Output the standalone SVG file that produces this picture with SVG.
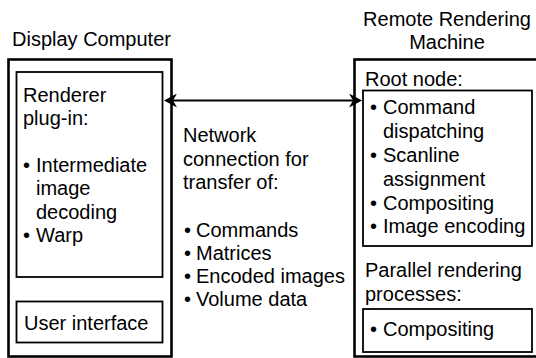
<svg xmlns="http://www.w3.org/2000/svg" width="536" height="358" viewBox="0 0 536 358">
<style>
text{font-family:"Liberation Sans",Arial,sans-serif;font-size:20px;fill:#000}
.outer{fill:none;stroke:#000;stroke-width:2.6}
.inner{fill:none;stroke:#000;stroke-width:1.8}
.conn{fill:none;stroke:#000;stroke-width:2}
.mid{text-anchor:middle}
</style>
<defs>
<marker id="ah" markerUnits="userSpaceOnUse" viewBox="0 0 13 14" refX="7" refY="7" markerWidth="13" markerHeight="14" orient="auto-start-reverse">
<path d="M0,0 L13,7 L0,14 L4,7 z" fill="#000"/>
</marker>
</defs>
<rect width="536" height="358" fill="#fff"/>

<g id="display-computer">
<text x="12" y="46">Display Computer</text>
<rect class="outer" x="8.5" y="59.5" width="163" height="297"/>
</g>

<g id="renderer-plugin">
<rect class="inner" x="16.5" y="72" width="146" height="205"/>
<text x="23" y="101.5">Renderer</text>
<text x="23" y="125">plug-in:</text>
<text x="23" y="171.5">•</text><text x="36" y="171.5">Intermediate</text>
<text x="36" y="195">image</text>
<text x="36" y="218.5">decoding</text>
<text x="23" y="242">•</text><text x="36" y="242">Warp</text>
</g>

<g id="user-interface">
<rect class="inner" x="16.5" y="301.5" width="146" height="41"/>
<text x="24" y="330">User interface</text>
</g>

<g id="network-label">
<text x="183" y="142">Network</text>
<text x="183" y="165.5">connection for</text>
<text x="183" y="189">transfer of:</text>
<text x="184" y="236.5">•</text><text x="196" y="236.5">Commands</text>
<text x="184" y="260">•</text><text x="196" y="260">Matrices</text>
<text x="184" y="283">•</text><text x="196" y="283">Encoded images</text>
<text x="184" y="306">•</text><text x="196" y="306">Volume data</text>
</g>

<g id="remote-rendering-machine">
<text class="mid" x="447" y="26">Remote Rendering</text>
<text class="mid" x="447" y="49">Machine</text>
<rect class="outer" x="354.5" y="59.5" width="190" height="297"/>
</g>

<g id="root-node">
<text x="365" y="86">Root node:</text>
<rect class="inner" x="363" y="90.5" width="169" height="155.5"/>
<text x="370" y="114">•</text><text x="383" y="114">Command</text>
<text x="383" y="137.5">dispatching</text>
<text x="370" y="161.5">•</text><text x="383" y="161.5">Scanline</text>
<text x="383" y="185.5">assignment</text>
<text x="370" y="209.5">•</text><text x="383" y="209.5">Compositing</text>
<text x="370" y="233">•</text><text x="383" y="233">Image encoding</text>
</g>

<g id="parallel-processes">
<text x="365" y="277">Parallel rendering</text>
<text x="365" y="300.5">processes:</text>
<rect class="inner" x="363" y="309" width="169" height="43"/>
<text x="370" y="336">•</text><text x="383" y="336">Compositing</text>
</g>

<g id="connectors">
<path class="conn" d="M170,100.5 H356" marker-start="url(#ah)" marker-end="url(#ah)"/>
</g>
</svg>
